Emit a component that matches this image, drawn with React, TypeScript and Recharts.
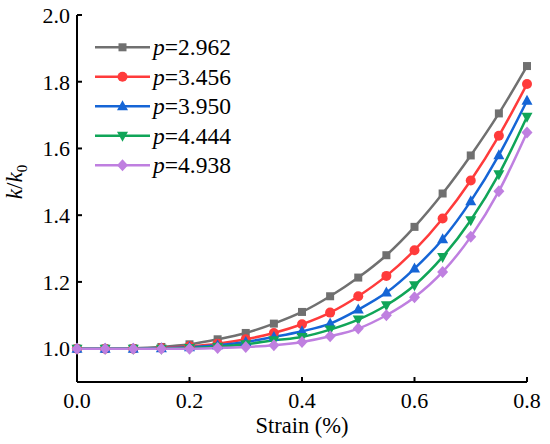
import { LineChart, Line, XAxis, YAxis, Legend, Label } from "recharts";

const strain = [0, 0.05, 0.1, 0.15, 0.2, 0.25, 0.3, 0.35, 0.4, 0.45, 0.5, 0.55, 0.6, 0.65, 0.7, 0.75, 0.8];
const p2962 = [1.0, 1.0, 1.001, 1.005, 1.013, 1.028, 1.047, 1.075, 1.11, 1.157, 1.213, 1.28, 1.365, 1.465, 1.579, 1.705, 1.847];
const p3456 = [1.0, 1.0, 1.0, 1.002, 1.007, 1.015, 1.028, 1.047, 1.073, 1.108, 1.157, 1.218, 1.295, 1.39, 1.504, 1.638, 1.793];
const p3950 = [1.0, 1.0, 1.0, 1.001, 1.004, 1.01, 1.02, 1.035, 1.052, 1.075, 1.117, 1.168, 1.24, 1.328, 1.442, 1.58, 1.743];
const p4444 = [1.0, 1.0, 1.0, 1.0, 1.002, 1.006, 1.013, 1.025, 1.035, 1.057, 1.087, 1.13, 1.19, 1.275, 1.385, 1.523, 1.695];
const p4938 = [1.0, 1.0, 1.0, 1.0, 1.0, 1.002, 1.005, 1.01, 1.02, 1.037, 1.06, 1.1, 1.154, 1.23, 1.335, 1.472, 1.648];

const xTicks = [0, 0.2, 0.4, 0.6, 0.8];
const yTicks = [1.0, 1.2, 1.4, 1.6, 1.8, 2.0];

const series = [
  { key: "a", name: "2.962", values: p2962, color: "#707070", shape: "square" },
  { key: "b", name: "3.456", values: p3456, color: "#ff3b3b", shape: "circle" },
  { key: "c", name: "3.950", values: p3950, color: "#1565d6", shape: "up" },
  { key: "d", name: "4.444", values: p4444, color: "#10a558", shape: "down" },
  { key: "e", name: "4.938", values: p4938, color: "#bf7fe0", shape: "diamond" },
];

const data = strain.map((s, i) => {
  const row: Record<string, number> = { strain: s };
  series.forEach((sr) => (row[sr.key] = sr.values[i]));
  return row;
});

const FONT = '"Times New Roman", "Liberation Serif", serif';

function Marker({ shape, cx, cy, color }: { shape: string; cx: number; cy: number; color: string }) {
  if (shape === "square") return <rect x={cx - 4} y={cy - 4} width={8} height={8} fill={color} />;
  if (shape === "circle") return <circle cx={cx} cy={cy} r={5} fill={color} />;
  if (shape === "up")
    return <polygon points={`${cx},${cy - 6} ${cx - 5.5},${cy + 4} ${cx + 5.5},${cy + 4}`} fill={color} />;
  if (shape === "down")
    return <polygon points={`${cx},${cy + 6} ${cx - 5.5},${cy - 4} ${cx + 5.5},${cy - 4}`} fill={color} />;
  return <polygon points={`${cx},${cy - 6} ${cx + 5.5},${cy} ${cx},${cy + 6} ${cx - 5.5},${cy}`} fill={color} />;
}

function makeDot(shape: string, color: string) {
  return (props: any) => {
    const { cx, cy, index } = props;
    if (cx == null || cy == null) return <g key={index} />;
    return (
      <g key={index}>
        <Marker shape={shape} cx={cx} cy={cy} color={color} />
      </g>
    );
  };
}

function LegendBox() {
  return (
    <svg width={260} height={190} style={{ position: "absolute", left: 0, top: 0 }}>
      {series.map((s, i) => {
        const y = 47.3 + i * 29.5;
        return (
          <g key={s.key}>
            <line x1={95} x2={150} y1={y} y2={y} stroke={s.color} strokeWidth={2.5} />
            <Marker shape={s.shape} cx={122.5} cy={y} color={s.color} />
            <text x={153} y={y + 8} fontSize={23.5} fontFamily={FONT} fill="#000">
              <tspan fontStyle="italic">p</tspan>={s.name}
            </text>
          </g>
        );
      })}
    </svg>
  );
}

function YLabel() {
  const cx = 22;
  const cy = 182;
  return (
    <text
      x={cx}
      y={cy}
      transform={`rotate(-90, ${cx}, ${cy})`}
      textAnchor="middle"
      fontSize={23}
      fontFamily={FONT}
      fill="#000"
    >
      <tspan fontStyle="italic">k</tspan>
      <tspan>/</tspan>
      <tspan fontStyle="italic">k</tspan>
      <tspan fontSize={15} dy={5}>0</tspan>
    </text>
  );
}

function XLabel(props: any) {
  const vb = props.viewBox || {};
  const x = vb.x + vb.width / 2;
  return (
    <text x={x} y={433} textAnchor="middle" fontSize={22.5} fontFamily={FONT} fill="#000">
      Strain (%)
    </text>
  );
}

export default function App() {
  const tickStyle = { fill: "#000", fontSize: 22, fontFamily: FONT };
  return (
    <div style={{ position: "absolute", left: 0, top: 0, width: 550, height: 444, background: "#fff" }}>
      <LineChart width={550} height={444} data={data} margin={{ top: 15, right: 23, left: 0, bottom: 0 }}>
        <XAxis
          dataKey="strain"
          type="number"
          domain={[0, 0.8]}
          ticks={xTicks}
          tickFormatter={(v: number) => v.toFixed(1)}
          tick={tickStyle}
          tickSize={-5}
          tickMargin={15.5}
          height={62}
          axisLine={{ stroke: "#000", strokeWidth: 2 }}
          tickLine={{ stroke: "#000", strokeWidth: 2 }}
        >
          <Label content={<XLabel />} />
        </XAxis>
        <XAxis
          xAxisId="top"
          orientation="top"
          dataKey="strain"
          type="number"
          domain={[0, 0.8]}
          height={0}
          tick={false}
          tickLine={false}
          axisLine={{ stroke: "#000", strokeWidth: 2 }}
        />
        <YAxis
          type="number"
          domain={[0.9, 2.0]}
          ticks={yTicks}
          tickFormatter={(v: number) => v.toFixed(1)}
          tick={tickStyle}
          tickSize={-5}
          tickMargin={12}
          width={77}
          axisLine={{ stroke: "#000", strokeWidth: 2 }}
          tickLine={{ stroke: "#000", strokeWidth: 2 }}
        >
          <Label content={<YLabel />} />
        </YAxis>
        <YAxis
          yAxisId="right"
          orientation="right"
          type="number"
          domain={[0.9, 2.0]}
          width={0}
          tick={false}
          tickLine={false}
          axisLine={{ stroke: "#000", strokeWidth: 2 }}
        />
        <Legend
          layout="vertical"
          align="center"
          verticalAlign="middle"
          content={() => <LegendBox />}
          wrapperStyle={{ position: "absolute", left: 0, top: 0, width: 260, height: 190 }}
        />
        {series.map((s) => (
          <Line
            key={s.key}
            dataKey={s.key}
            name={s.name}
            type="monotone"
            stroke={s.color}
            strokeWidth={2.5}
            dot={makeDot(s.shape, s.color)}
            activeDot={false}
            isAnimationActive={false}
          />
        ))}
      </LineChart>
    </div>
  );
}
